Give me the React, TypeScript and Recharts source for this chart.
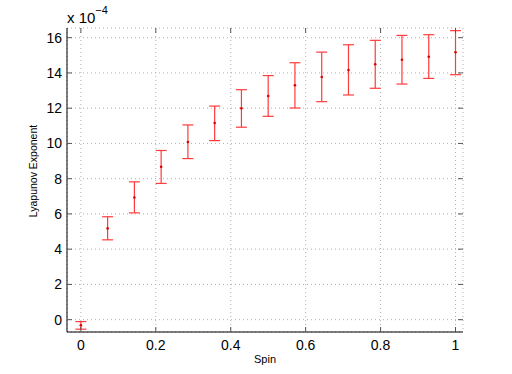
import React from 'react';
import {
  ScatterChart,
  Scatter,
  ErrorBar,
  XAxis,
  YAxis,
  CartesianGrid,
  Label,
} from 'recharts';

// spin values and Lyapunov exponent (units of 1e-4), with error bar ends
const spin = [0, 0.0714, 0.1429, 0.2143, 0.2857, 0.3571, 0.4286, 0.5, 0.5714, 0.6429, 0.7143, 0.7857, 0.8571, 0.9286, 1];
const lyapunov = [-0.32, 5.18, 6.93, 8.67, 10.08, 11.16, 11.99, 12.69, 13.3, 13.77, 14.16, 14.49, 14.75, 14.92, 15.17];
const upper = [-0.11, 5.84, 7.82, 9.6, 11.05, 12.12, 13.05, 13.85, 14.58, 15.18, 15.6, 15.85, 16.13, 16.17, 16.4];
const lower = [-0.54, 4.53, 6.06, 7.73, 9.14, 10.16, 10.92, 11.54, 12.01, 12.37, 12.75, 13.13, 13.37, 13.69, 13.9];

const xTicks = [0, 0.2, 0.4, 0.6, 0.8, 1];
const yTicks = [0, 2, 4, 6, 8, 10, 12, 14, 16];

const data = spin.map((s, i) => ({
  spin: s,
  value: lyapunov[i],
  err: [lyapunov[i] - lower[i], upper[i] - lyapunov[i]],
}));

const W = 512;
const H = 374;
const PLOT_LEFT = 67;
const PLOT_RIGHT = 463;
const PLOT_TOP = 28;
const PLOT_BOTTOM = 332;
const FONT = '"Liberation Sans", Arial, Helvetica, sans-serif';
const TICK_COLOR = '#555';
const RED = '#ff3b3b';

const XTick = (props: any) => {
  const { x, payload } = props;
  return (
    <g>
      <line x1={x} x2={x} y1={PLOT_BOTTOM} y2={PLOT_BOTTOM - 5} stroke={TICK_COLOR} />
      <line x1={x} x2={x} y1={PLOT_TOP} y2={PLOT_TOP + 5} stroke={TICK_COLOR} />
      <text x={x} y={PLOT_BOTTOM + 18} textAnchor="middle" fontSize={14} fill="#000" fontFamily={FONT}>
        {payload.value}
      </text>
    </g>
  );
};

const YTick = (props: any) => {
  const { y, payload } = props;
  return (
    <g>
      <line x1={PLOT_LEFT} x2={PLOT_LEFT + 5} y1={y} y2={y} stroke={TICK_COLOR} />
      <line x1={PLOT_RIGHT - 5} x2={PLOT_RIGHT} y1={y} y2={y} stroke={TICK_COLOR} />
      <text x={PLOT_LEFT - 5} y={y + 5} textAnchor="end" fontSize={14} fill="#000" fontFamily={FONT}>
        {payload.value}
      </text>
    </g>
  );
};

const Dot = (props: any) => <circle cx={props.cx} cy={props.cy} r={1.3} fill="#e00000" />;

export default function App() {
  return (
    <div style={{ position: 'absolute', left: 0, top: 0, width: W, height: H, background: '#fff' }}>
      <ScatterChart
        width={W}
        height={H}
        margin={{ top: PLOT_TOP, right: W - PLOT_RIGHT, bottom: 0, left: 0 }}
      >
        <CartesianGrid stroke="#b0b0b0" strokeDasharray="1 3" />
        <XAxis
          dataKey="spin"
          type="number"
          domain={[-0.037, 1.02]}
          ticks={xTicks}
          height={H - PLOT_BOTTOM}
          tick={<XTick />}
          tickLine={false}
          axisLine={{ stroke: '#000' }}
          allowDataOverflow
        >
          <Label
            content={() => (
              <text x={(PLOT_LEFT + PLOT_RIGHT) / 2} y={363} textAnchor="middle" fontSize={11} fontFamily={FONT} fill="#000">
                Spin
              </text>
            )}
          />
        </XAxis>
        <XAxis
          xAxisId="top"
          orientation="top"
          type="number"
          domain={[0, 1]}
          height={0}
          tick={false}
          tickLine={false}
          axisLine={{ stroke: '#777' }}
        />
        <YAxis
          dataKey="value"
          type="number"
          domain={[-0.7, 16.55]}
          ticks={yTicks}
          width={PLOT_LEFT}
          tick={<YTick />}
          tickLine={false}
          axisLine={{ stroke: '#000' }}
          allowDataOverflow
        >
          <Label
            content={() => (
              <g>
                <text
                  x={37}
                  y={171}
                  textAnchor="middle"
                  fontSize={10.5}
                  fontFamily={FONT}
                  fill="#000"
                  transform="rotate(-90 37 171)"
                >
                  Lyapunov Exponent
                </text>
                <text x={PLOT_LEFT} y={23} fontSize={15} fontFamily={FONT} fill="#000">
                  x 10
                  <tspan dy={-9} fontSize={11}>−4</tspan>
                </text>
              </g>
            )}
          />
        </YAxis>
        <YAxis
          yAxisId="right"
          orientation="right"
          type="number"
          domain={[0, 1]}
          width={0}
          tick={false}
          tickLine={false}
          axisLine={{ stroke: '#777' }}
        />
        <Scatter data={data} dataKey="value" shape={<Dot />} isAnimationActive={false}>
          <ErrorBar dataKey="err" direction="y" width={5.5} stroke={RED} strokeWidth={1.2} isAnimationActive={false} />
        </Scatter>
      </ScatterChart>
    </div>
  );
}
